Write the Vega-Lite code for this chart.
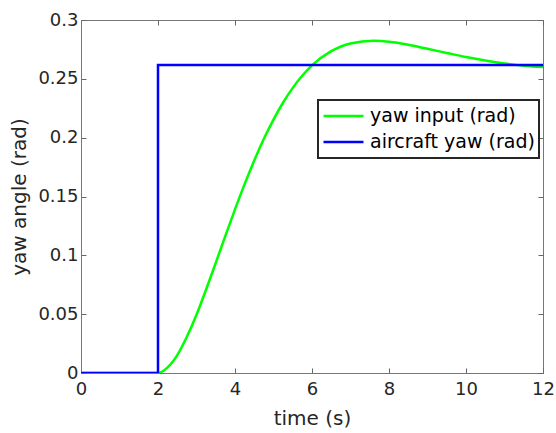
{
  "$schema": "https://vega.github.io/schema/vega-lite/v6.json",
  "autosize": "none",
  "width": 462,
  "height": 353,
  "padding": {"left": 81, "top": 20, "right": 13, "bottom": 60},
  "background": "white",
  "config": {
    "font": "DejaVu Sans",
    "view": {"stroke": "#777", "strokeWidth": 1},
    "axis": {
      "grid": false,
      "domainColor": "#777",
      "tickColor": "#666",
      "tickSize": -5,
      "tickWidth": 1,
      "labelColor": "#262626",
      "titleColor": "#262626",
      "labelFontSize": 18,
      "titleFontSize": 20,
      "titleFontWeight": "normal",
      "labelFont": "DejaVu Sans",
      "titleFont": "DejaVu Sans",
      "labelFlush": false
    },
    "legend": {"strokeWidth": 2}
  },
  "data": {
    "values": [
      {"i": 1, "t": 0, "v": 0, "s": "yaw input (rad)"},
      {"i": 2, "t": 1, "v": 0, "s": "yaw input (rad)"},
      {"i": 3, "t": 2, "v": 0, "s": "yaw input (rad)"},
      {"i": 4, "t": 2.25, "v": 0.0048, "s": "yaw input (rad)"},
      {"i": 5, "t": 2.5, "v": 0.0152, "s": "yaw input (rad)"},
      {"i": 6, "t": 2.75, "v": 0.0308, "s": "yaw input (rad)"},
      {"i": 7, "t": 3, "v": 0.0495, "s": "yaw input (rad)"},
      {"i": 8, "t": 3.25, "v": 0.071, "s": "yaw input (rad)"},
      {"i": 9, "t": 3.5, "v": 0.0936, "s": "yaw input (rad)"},
      {"i": 10, "t": 3.75, "v": 0.1165, "s": "yaw input (rad)"},
      {"i": 11, "t": 4, "v": 0.139, "s": "yaw input (rad)"},
      {"i": 12, "t": 4.25, "v": 0.1605, "s": "yaw input (rad)"},
      {"i": 13, "t": 4.5, "v": 0.1806, "s": "yaw input (rad)"},
      {"i": 14, "t": 4.75, "v": 0.199, "s": "yaw input (rad)"},
      {"i": 15, "t": 5, "v": 0.2154, "s": "yaw input (rad)"},
      {"i": 16, "t": 5.25, "v": 0.2299, "s": "yaw input (rad)"},
      {"i": 17, "t": 5.5, "v": 0.2423, "s": "yaw input (rad)"},
      {"i": 18, "t": 5.75, "v": 0.2528, "s": "yaw input (rad)"},
      {"i": 19, "t": 6, "v": 0.2614, "s": "yaw input (rad)"},
      {"i": 20, "t": 6.5, "v": 0.2735, "s": "yaw input (rad)"},
      {"i": 21, "t": 7, "v": 0.2801, "s": "yaw input (rad)"},
      {"i": 22, "t": 7.6, "v": 0.2823, "s": "yaw input (rad)"},
      {"i": 23, "t": 8, "v": 0.2815, "s": "yaw input (rad)"},
      {"i": 24, "t": 8.5, "v": 0.279, "s": "yaw input (rad)"},
      {"i": 25, "t": 9, "v": 0.2755, "s": "yaw input (rad)"},
      {"i": 26, "t": 9.5, "v": 0.272, "s": "yaw input (rad)"},
      {"i": 27, "t": 10, "v": 0.2685, "s": "yaw input (rad)"},
      {"i": 28, "t": 10.5, "v": 0.2655, "s": "yaw input (rad)"},
      {"i": 29, "t": 11, "v": 0.263, "s": "yaw input (rad)"},
      {"i": 30, "t": 11.5, "v": 0.2612, "s": "yaw input (rad)"},
      {"i": 31, "t": 12, "v": 0.26, "s": "yaw input (rad)"},
      {"i": 32, "t": 0, "v": 0, "s": "aircraft yaw (rad)"},
      {"i": 33, "t": 2, "v": 0, "s": "aircraft yaw (rad)"},
      {"i": 34, "t": 2, "v": 0.2618, "s": "aircraft yaw (rad)"},
      {"i": 35, "t": 12, "v": 0.2618, "s": "aircraft yaw (rad)"}
    ]
  },
  "encoding": {
    "color": {
      "field": "s", "type": "nominal",
      "scale": {"domain": ["yaw input (rad)", "aircraft yaw (rad)"], "range": ["#00ff00", "#0000ff"]},
      "legend": {
        "title": null,
        "orient": "none",
        "legendX": 237,
        "legendY": 80,
        "symbolType": "stroke",
        "symbolSize": 1600,
        "symbolStrokeWidth": 2.5,
        "labelFontSize": 19,
        "labelFont": "DejaVu Sans",
        "labelColor": "#000000",
        "labelOffset": 5,
        "labelLimit": 400,
        "clipHeight": 24,
        "rowPadding": 2,
        "strokeColor": "#262626",
        "fillColor": "white",
        "padding": 4
      }
    },
    "order": {"field": "i", "type": "quantitative"}
  },
  "layer": [
    {
      "transform": [{"filter": "datum.s == 'yaw input (rad)'"}],
      "mark": {"type": "line", "strokeWidth": 2.5, "clip": true, "interpolate": "monotone"},
      "encoding": {
        "x": {
          "field": "t", "type": "quantitative",
          "scale": {"domain": [0, 12], "nice": false, "zero": false},
          "axis": {"values": [0, 2, 4, 6, 8, 10, 12], "title": "time (s)", "labelPadding": 12, "titlePadding": 10}
        },
        "y": {
          "field": "v", "type": "quantitative",
          "scale": {"domain": [0, 0.3], "nice": false},
          "axis": {"values": [0, 0.05, 0.1, 0.15, 0.2, 0.25, 0.3], "format": "~g", "title": "yaw angle (rad)", "labelPadding": 8, "titlePadding": 8}
        }
      }
    },
    {
      "transform": [{"filter": "datum.s == 'aircraft yaw (rad)'"}],
      "mark": {"type": "line", "strokeWidth": 2.5, "clip": true},
      "encoding": {
        "x": {
          "field": "t", "type": "quantitative",
          "axis": {"orient": "top", "values": [0, 2, 4, 6, 8, 10, 12], "labels": false, "title": null, "domain": false, "tickSize": 5, "tickOffset": 0, "offset": -5}
        },
        "y": {
          "field": "v", "type": "quantitative",
          "axis": {"orient": "right", "values": [0, 0.05, 0.1, 0.15, 0.2, 0.25, 0.3], "labels": false, "title": null, "domain": false, "tickSize": 5, "offset": -5}
        }
      }
    }
  ],
  "resolve": {"axis": {"x": "independent", "y": "independent"}}
}
